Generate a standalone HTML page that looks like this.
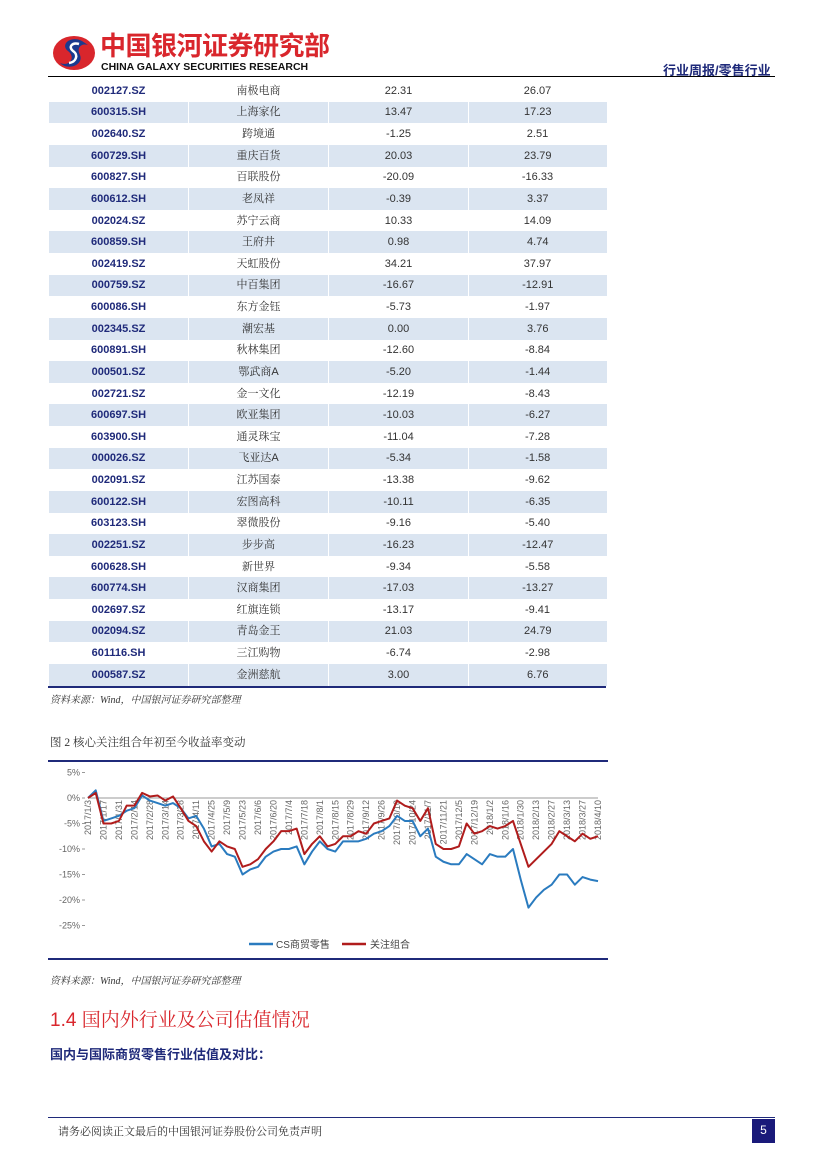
<!DOCTYPE html>
<html><head><meta charset="utf-8">
<style>
body{margin:0;width:827px;height:1169px;background:#fff;position:relative;overflow:hidden;font-family:"Liberation Sans","Noto Sans CJK SC",sans-serif;}
.abs{position:absolute;}
table{border-collapse:collapse;position:absolute;left:48px;top:80px;width:558px;table-layout:fixed;}
td{height:21.64px;padding:0;text-align:center;font-size:11px;color:#333;font-family:"Liberation Sans","Noto Serif CJK SC",serif;line-height:14px;}
td.c{color:#1f2a7a;font-weight:bold;font-family:"Liberation Sans","Noto Sans CJK SC",sans-serif;}
tr.b td{background:#dbe5f1;border-left:1px solid #fff;}
.src{font-size:10px;font-style:italic;color:#333;font-family:"Liberation Serif","Noto Serif CJK SC",serif;}
</style></head><body>
<svg class="abs" style="left:52px;top:33px" width="46" height="40">
<ellipse cx="22" cy="20" rx="21" ry="17" fill="#d9262c"/>
<path d="M30 8 C18 2 8 12 16 18 C24 24 18 34 8 30 C16 38 32 32 28 22 C24 14 30 10 36 12 Z" fill="#1a3a8f"/>
<path d="M27 11 C20 9 16 14 21 18 C27 22 24 29 17 30" stroke="#fff" stroke-width="2.5" fill="none"/>
</svg>
<div class="abs" style="left:100px;top:30px;font-size:26px;font-weight:bold;color:#d9262c;letter-spacing:-0.5px;font-family:'Noto Sans CJK SC',sans-serif;line-height:30px;">中国银河证券研究部</div>
<div class="abs" style="left:101px;top:61px;font-size:10.5px;font-weight:bold;color:#111;line-height:12px;">CHINA GALAXY SECURITIES RESEARCH</div>
<div class="abs" style="left:663px;top:60px;font-size:13px;font-weight:bold;color:#1f2a7a;">行业周报/零售行业</div>
<div class="abs" style="left:48px;top:76px;width:727px;height:1px;background:#000;"></div>

<table>
<colgroup><col style="width:140px"><col style="width:140px"><col style="width:140px"><col style="width:138px"></colgroup>
<tbody id="tb"></tbody></table>
<div class="abs" style="left:48px;top:686px;width:558px;height:2px;background:#1f2a7a;"></div>
<div class="abs src" style="left:50px;top:691px;">资料来源：Wind，中国银河证券研究部整理</div>

<div class="abs" style="left:50px;top:734px;font-size:11.5px;color:#333;font-family:'Liberation Serif','Noto Serif CJK SC',serif;">图 2 核心关注组合年初至今收益率变动</div>
<div class="abs" style="left:48px;top:760px;width:560px;height:2px;background:#1f2a7a;"></div>
<svg id="chart" class="abs" style="left:0;top:0" width="827" height="1169"></svg>
<div class="abs" style="left:48px;top:958px;width:560px;height:2px;background:#1f2a7a;"></div>
<div class="abs src" style="left:50px;top:972px;">资料来源：Wind，中国银河证券研究部整理</div>

<div class="abs" style="left:50px;top:1005px;font-size:19px;color:#d9262c;font-family:'Liberation Sans','Noto Serif CJK SC',serif;">1.4 国内外行业及公司估值情况</div>
<div class="abs" style="left:50px;top:1044px;font-size:13px;font-weight:bold;color:#1f2a7a;font-family:'Noto Sans CJK SC',sans-serif;">国内与国际商贸零售行业估值及对比：</div>

<div class="abs" style="left:48px;top:1117px;width:727px;height:1px;background:#1f2a7a;"></div>
<div class="abs" style="left:58px;top:1123px;font-size:11px;color:#333;font-family:'Liberation Serif','Noto Serif CJK SC',serif;">请务必阅读正文最后的中国银河证券股份公司免责声明</div>
<div class="abs" style="left:752px;top:1119px;width:23px;height:24px;background:#1a1a7a;color:#fff;font-size:12px;text-align:center;line-height:22px;">5</div>

<script>
const rows=[["002127.SZ","南极电商","22.31","26.07"],["600315.SH","上海家化","13.47","17.23"],["002640.SZ","跨境通","-1.25","2.51"],["600729.SH","重庆百货","20.03","23.79"],["600827.SH","百联股份","-20.09","-16.33"],["600612.SH","老凤祥","-0.39","3.37"],["002024.SZ","苏宁云商","10.33","14.09"],["600859.SH","王府井","0.98","4.74"],["002419.SZ","天虹股份","34.21","37.97"],["000759.SZ","中百集团","-16.67","-12.91"],["600086.SH","东方金钰","-5.73","-1.97"],["002345.SZ","潮宏基","0.00","3.76"],["600891.SH","秋林集团","-12.60","-8.84"],["000501.SZ","鄂武商A","-5.20","-1.44"],["002721.SZ","金一文化","-12.19","-8.43"],["600697.SH","欧亚集团","-10.03","-6.27"],["603900.SH","通灵珠宝","-11.04","-7.28"],["000026.SZ","飞亚达A","-5.34","-1.58"],["002091.SZ","江苏国泰","-13.38","-9.62"],["600122.SH","宏图高科","-10.11","-6.35"],["603123.SH","翠微股份","-9.16","-5.40"],["002251.SZ","步步高","-16.23","-12.47"],["600628.SH","新世界","-9.34","-5.58"],["600774.SH","汉商集团","-17.03","-13.27"],["002697.SZ","红旗连锁","-13.17","-9.41"],["002094.SZ","青岛金王","21.03","24.79"],["601116.SH","三江购物","-6.74","-2.98"],["000587.SZ","金洲慈航","3.00","6.76"]];
const tb=document.getElementById('tb');
rows.forEach((r,i)=>{const tr=document.createElement('tr');if(i%2)tr.className='b';


r.forEach((v,j)=>{const td=document.createElement('td');td.textContent=v;if(j==0)td.className='c';tr.appendChild(td);});tb.appendChild(tr);});
</script>
<script>
const dates=["2017/1/3","2017/1/17","2017/1/31","2017/2/14","2017/2/28","2017/3/14","2017/3/28","2017/4/11","2017/4/25","2017/5/9","2017/5/23","2017/6/6","2017/6/20","2017/7/4","2017/7/18","2017/8/1","2017/8/15","2017/8/29","2017/9/12","2017/9/26","2017/10/10","2017/10/24","2017/11/7","2017/11/21","2017/12/5","2017/12/19","2018/1/2","2018/1/16","2018/1/30","2018/2/13","2018/2/27","2018/3/13","2018/3/27","2018/4/10"];
const csRetail=[0,1.5,-4.5,-4,-3.5,-2.5,-2,0.5,-0.5,-1,-1.5,-1,-2,-4,-3.5,-6,-9.5,-9,-11,-11.5,-15,-14,-13.5,-11.5,-10.5,-10,-10,-9.5,-13,-10.5,-8.5,-10,-10.5,-8.5,-8.5,-8.5,-8,-7,-6.5,-5.5,-3.5,-4.5,-4.5,-7.5,-6,-11.5,-12.5,-13,-13,-11,-12,-13,-11,-11.5,-11.5,-10,-16,-21.5,-19.5,-18,-17,-15,-15,-17,-15.5,-16,-16.3];
const portfolio=[0,1,-5,-5,-4.5,-1.5,-1.5,1,0.3,0.5,-0.5,0.3,-2,-4.5,-5.5,-8.5,-10.5,-8.5,-9.5,-10,-13.5,-13,-12,-10,-8.5,-6.5,-6.5,-6,-11,-9,-7.5,-9.5,-9,-7.5,-7.5,-6.5,-7,-5,-4.5,-4,-0.5,-1.5,-2,-4.5,-2,-9,-10,-10,-9.5,-5,-7,-6.5,-5.5,-6,-5.5,-4.5,-9,-13.5,-12,-10.5,-9,-6.5,-7.5,-8.5,-7,-8,-7.5];
const yTicks=[5,0,-5,-10,-15,-20,-25];
const svg=document.getElementById('chart');const NS='http://www.w3.org/2000/svg';
const x0=88,x1=598,n=csRetail.length;
const X=i=>x0+(x1-x0)*i/(n-1);
const Y=v=>798-v*5.1;
function mk(t,a){const e=document.createElementNS(NS,t);for(const k in a)e.setAttribute(k,a[k]);svg.appendChild(e);return e;}
yTicks.forEach(v=>{const t=mk('text',{x:80,y:Y(v)+3,'text-anchor':'end','font-size':'9','fill':'#666','font-family':'Liberation Sans'});t.textContent=v+'%';


mk('line',{x1:82,x2:85,y1:Y(v),y2:Y(v),stroke:'#999'});});
const ax=mk('line',{x1:x0,x2:x1,y1:Y(0),y2:Y(0),stroke:'#999','stroke-width':'1'});


dates.forEach((d,k)=>{const xx=X(k*2)+3;const t=mk('text',{x:0,y:0,transform:`translate(${xx},${Y(0)+2}) rotate(-90)`,'text-anchor':'end','font-size':'9','fill':'#666','font-family':'Liberation Sans'});t.textContent=d;

});
function line(arr,col,name){const p=mk('polyline',{points:arr.map((v,i)=>X(i)+','+Y(v)).join(' '),fill:'none',stroke:col,'stroke-width':'2','stroke-linejoin':'round'});

}
line(csRetail,'#2a7bbf','cs-retail-line');
line(portfolio,'#b01c1c','portfolio-line');
const lg1=mk('line',{x1:249,x2:273,y1:944,y2:944,stroke:'#2a7bbf','stroke-width':'2.5'});


const t1=mk('text',{x:276,y:948,'font-size':'10','fill':'#444','font-family':'Liberation Sans, Noto Sans CJK SC, sans-serif'});t1.textContent='CS商贸零售';


const lg2=mk('line',{x1:342,x2:366,y1:944,y2:944,stroke:'#b01c1c','stroke-width':'2.5'});


const t2=mk('text',{x:370,y:948,'font-size':'10','fill':'#444','font-family':'Liberation Sans, Noto Sans CJK SC, sans-serif'});t2.textContent='关注组合';


</script>
</body></html>
